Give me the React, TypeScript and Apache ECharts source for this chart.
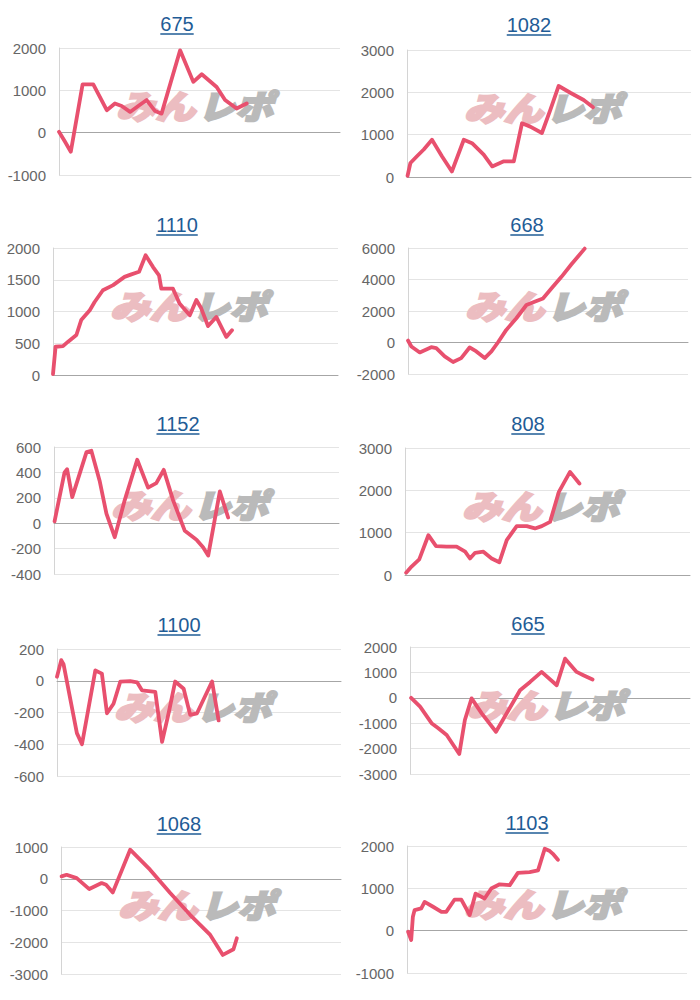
import React, { useEffect, useRef } from "react";
import * as echarts from "echarts";

// ---- data (x: position along the unlabeled game axis, 0-100; y: balance) ----
const titles = ["675", "1082", "1110", "668", "1152", "808", "1100", "665", "1068", "1103"];
const yMin = [-1000, 0, 0, -2000, -400, 0, -600, -3000, -3000, -1000];
const yMax = [2000, 3000, 2000, 6000, 600, 3000, 200, 2000, 1000, 2000];
const yStep = [1000, 1000, 500, 2000, 200, 1000, 200, 1000, 1000, 1000];

const s675 = [
  [0, 20], [2.1, -210], [4.2, -450], [8.4, 1140], [12.2, 1140], [17.0, 530], [19.9, 690],
  [22.3, 630], [25.3, 490], [28.2, 630], [31.2, 770], [34.2, 510], [36.5, 450], [43.1, 1945],
  [47.8, 1200], [50.8, 1380], [56.1, 1080], [59.1, 770], [63.2, 570], [66.8, 690],
];
const s1082 = [
  [0.2, 30], [1.2, 330], [3.5, 490], [5.9, 650], [8.8, 880], [12.3, 490], [15.8, 130],
  [20.0, 880], [22.9, 800], [27.0, 530], [30.0, 250], [34.1, 370], [37.6, 370], [40.5, 1270],
  [43.4, 1190], [47.5, 1040], [50.5, 1590], [53.4, 2150], [57.5, 1990], [62.2, 1820], [65.5, 1650],
];
const s1110 = [
  [0, 15], [0.9, 445], [3.5, 455], [5.3, 525], [8.2, 630], [9.9, 865], [12.9, 1020], [14.6, 1150],
  [17.5, 1335], [21.1, 1415], [25.1, 1545], [27.5, 1585], [30.2, 1625], [32.5, 1885], [35.1, 1700],
  [37.2, 1570], [38.0, 1360], [42.1, 1360], [44.4, 1125], [48.0, 940], [50.3, 1180], [52.0, 1050],
  [54.4, 770], [57.3, 915], [60.8, 600], [62.8, 705],
];
const s668 = [
  [0, 125], [1.2, -250], [4.2, -630], [8.3, -300], [10.1, -360], [13.1, -885], [16.1, -1240],
  [19.0, -990], [22.0, -315], [24.4, -570], [27.4, -990], [29.8, -570], [32.1, 0], [35.1, 800],
  [38.7, 1540], [42.3, 2380], [45.2, 2590], [48.2, 2800], [51.2, 3430], [54.8, 4170],
  [58.3, 4950], [63.1, 5960],
];
const s1152 = [
  [0.2, 15], [3.7, 400], [4.6, 425], [6.4, 205], [11.4, 560], [13.1, 570], [16.0, 335],
  [18.4, 75], [21.3, -110], [24.8, 180], [29.2, 500], [33.0, 280], [35.9, 315], [38.5, 420],
  [41.8, 180], [45.9, -60], [50.0, -130], [52.3, -190], [54.1, -255], [58.2, 250], [61.1, 45],
];
const s808 = [
  [0.4, 55], [2.3, 200], [5.0, 370], [8.2, 940], [10.9, 680], [14.6, 670], [18.1, 670],
  [21.1, 550], [22.8, 390], [24.6, 525], [27.5, 550], [30.4, 390], [33.1, 300], [35.7, 825],
  [39.2, 1155], [42.7, 1155], [45.6, 1100], [48.0, 1155], [50.9, 1255], [54.0, 1965],
  [57.9, 2435], [61.2, 2160],
];
const s1100 = [
  [0, 25], [1.5, 130], [2.3, 105], [7.0, -330], [8.8, -400], [13.5, 65], [15.8, 45], [17.6, -205],
  [19.9, -145], [22.3, -5], [25.8, -2], [28.2, -10], [29.9, -60], [34.6, -70], [37.0, -385],
  [39.3, -205], [41.6, -5], [44.6, -50], [46.9, -215], [49.3, -205], [54.6, -5], [56.9, -250],
];
const s665 = [
  [0.4, 0], [3.6, -350], [7.7, -1000], [10.1, -1200], [13.1, -1465], [17.6, -2210], [19.6, -875],
  [22.0, -25], [25.6, -615], [30.7, -1335], [34.5, -615], [39.3, 300], [42.9, 625], [47.0, 1020],
  [52.4, 495], [55.4, 1540], [59.5, 1020], [61.9, 890], [65.2, 720],
];
const s1068 = [
  [0.2, 75], [2.0, 125], [5.6, 20], [10.1, -325], [14.5, -135], [16.1, -190], [18.5, -430],
  [24.7, 915], [31.8, 285], [39.0, -450], [46.1, -1135], [53.3, -1770], [57.8, -2400],
  [61.6, -2220], [62.8, -1875],
];
const s1103 = [
  [0.4, -25], [1.5, -220], [2.1, 330], [2.7, 485], [5.1, 525], [6.3, 680], [9.3, 565],
  [12.3, 445], [14.0, 445], [17.0, 735], [19.4, 735], [22.4, 370], [24.5, 875], [27.7, 760],
  [30.1, 995], [33.1, 1095], [36.7, 1075], [39.6, 1365], [43.8, 1385], [46.8, 1425],
  [49.2, 1935], [51.0, 1880], [52.1, 1815], [53.9, 1675],
];
const seriesData = [s675, s1082, s1110, s668, s1152, s808, s1100, s665, s1068, s1103];

// ---- layout ----
const gridBoxes = [
  [59, 48, 281, 127], [407, 50, 284, 127],
  [53, 248, 285, 127], [408, 248, 280, 126],
  [54, 447, 285, 127], [405, 448, 285, 127],
  [57, 649, 284, 127], [410, 647, 280, 127],
  [61, 847, 280, 127], [407, 846, 280, 127],
];
const titlePos = [
  [177, 24], [529, 25], [177, 225], [527, 225], [178, 424], [528, 424],
  [179, 625], [528, 624], [179, 824], [527, 823],
];

const TITLE_FONT = '"Liberation Sans", Arial, sans-serif';
const LABEL_FONT = '"Liberation Sans", Arial, sans-serif';
const CJK_FONT = '"Noto Sans CJK JP", sans-serif';

export default function App() {
  const ref = useRef<HTMLDivElement>(null);
  useEffect(() => {
    document.body.style.margin = "0";
    if (!ref.current) return;
    const chart = echarts.init(ref.current, undefined, { renderer: "svg" });
    const ctx = document.createElement("canvas").getContext("2d");
    const measure = (t: string) => {
      if (!ctx) return t.length * 11;
      ctx.font = `20px ${TITLE_FONT}`;
      return ctx.measureText(t).width;
    };

    const grids: any[] = [];
    const xAxes: any[] = [];
    const yAxes: any[] = [];
    const series: any[] = [];
    const graphics: any[] = [];

    const wmStyle = (text: string, color: string) => ({
      text, fill: color, stroke: color, lineWidth: 2.2,
      fontSize: 33, fontWeight: 900, fontStyle: "italic",
      fontFamily: CJK_FONT, align: "left", verticalAlign: "top",
    });

    titles.forEach((t, i) => {
      const [l, tp, w, h] = gridBoxes[i];
      grids.push({ left: l, top: tp, width: w, height: h });
      xAxes.push({
        gridIndex: i, type: "value", min: 0, max: 100,
        axisLabel: { show: false }, axisTick: { show: false }, splitLine: { show: false },
        axisLine: { show: true, onZero: true, lineStyle: { color: "#a6a6a6", width: 1 } },
      });
      yAxes.push({
        gridIndex: i, type: "value", min: yMin[i], max: yMax[i], interval: yStep[i],
        axisLine: { show: true, onZero: false, lineStyle: { color: "#d4d4d4", width: 1 } },
        axisTick: { show: false },
        splitLine: { lineStyle: { color: "#e4e4e4", width: 1 } },
        axisLabel: {
          color: "#666666", fontSize: 15, fontFamily: LABEL_FONT, margin: 13,
          formatter: (v: number) => String(v),
        },
      });
      series.push({
        type: "line", xAxisIndex: i, yAxisIndex: i, data: seriesData[i],
        showSymbol: false, symbol: "none", z: 5,
        lineStyle: { color: "#e8506e", width: 3.8, join: "round", cap: "round" },
      });
      // title with underline
      const [cx, cy] = titlePos[i];
      const tw = measure(t);
      graphics.push({
        type: "text", x: cx, y: cy, z: 10,
        style: { text: t, fill: "#1f5c96", font: `20px ${TITLE_FONT}`, align: "center", verticalAlign: "middle" },
      });
      graphics.push({
        type: "line", z: 10,
        shape: { x1: cx - tw / 2, y1: cy + 10, x2: cx + tw / 2, y2: cy + 10 },
        style: { stroke: "#1f5c96", lineWidth: 1.5 },
      });
      // watermark
      graphics.push({
        type: "group", x: l + 57, y: tp + 40, z: 1,
        children: [
          { type: "text", x: 0, y: 0, scaleX: 1.2, z: 1, style: wmStyle("みん", "#ecbdc1") },
          { type: "text", x: 82, y: 0, scaleX: 1.14, z: 1, style: wmStyle("レポ", "#bababa") },
        ],
      });
    });

    chart.setOption({
      animation: false,
      backgroundColor: "#ffffff",
      grid: grids,
      xAxis: xAxes,
      yAxis: yAxes,
      series,
      graphic: graphics,
    });
    return () => chart.dispose();
  }, []);
  return <div ref={ref} style={{ width: 700, height: 1000 }} />;
}
